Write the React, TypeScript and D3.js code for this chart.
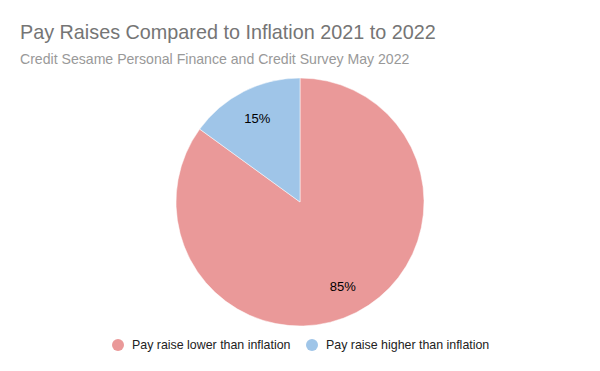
import { useEffect, useRef } from "react"
import * as d3 from "d3"

const categories = ["Pay raise lower than inflation", "Pay raise higher than inflation"]
const values = [85, 15]
const colors = ["#ea9999", "#9fc5e8"]

const title = "Pay Raises Compared to Inflation 2021 to 2022"
const subtitle = "Credit Sesame Personal Finance and Credit Survey May 2022"

export default function App() {
  const svgRef = useRef<SVGSVGElement>(null)

  useEffect(() => {
    if (!svgRef.current) return
    const width = 600
    const height = 371
    const svg = d3.select(svgRef.current)
    svg.selectAll("*").remove()
    svg.attr("width", width).attr("height", height)

    svg.append("rect").attr("width", width).attr("height", height).attr("fill", "#ffffff")

    const font = "Arial, 'Liberation Sans', sans-serif"

    svg
      .append("text")
      .attr("x", 20)
      .attr("y", 39)
      .attr("font-family", font)
      .attr("font-size", 19.8)
      .attr("fill", "#757575")
      .text(title)

    svg
      .append("text")
      .attr("x", 20)
      .attr("y", 64)
      .attr("font-family", font)
      .attr("font-size", 14.1)
      .attr("fill", "#999999")
      .text(subtitle)

    const cx = 300
    const cy = 202
    const radius = 124

    const pie = d3
      .pie<number>()
      .sort(null)
      .value((d) => d)
      .startAngle(0)
      .endAngle(2 * Math.PI)

    const arcs = pie(values)
    const arc = d3.arc<d3.PieArcDatum<number>>().innerRadius(0).outerRadius(radius)
    const labelArc = d3.arc<d3.PieArcDatum<number>>().innerRadius(radius * 0.76).outerRadius(radius * 0.76)

    const g = svg.append("g").attr("transform", `translate(${cx},${cy})`)

    g.selectAll("path")
      .data(arcs)
      .enter()
      .append("path")
      .attr("d", arc)
      .attr("fill", (_, i) => colors[i])
      .attr("stroke", "#ffffff")
      .attr("stroke-width", 0.5)

    const total = d3.sum(values)
    g.selectAll("text.label")
      .data(arcs)
      .enter()
      .append("text")
      .attr("class", "label")
      .attr("x", (d) => labelArc.centroid(d)[0])
      .attr("y", (d) => labelArc.centroid(d)[1])
      .attr("dy", "0.35em")
      .attr("text-anchor", "middle")
      .attr("font-family", font)
      .attr("font-size", 13)
      .attr("fill", "#000000")
      .text((d) => `${Math.round((d.data / total) * 100)}%`)

    // Legend
    const legendX = [118, 312]
    const legend = svg
      .selectAll("g.legend")
      .data(categories)
      .enter()
      .append("g")
      .attr("class", "legend")
      .attr("transform", (_, i) => `translate(${legendX[i]},345)`)

    legend.append("circle").attr("r", 6).attr("fill", (_, i) => colors[i])

    legend
      .append("text")
      .attr("x", 14)
      .attr("dy", "0.35em")
      .attr("font-family", font)
      .attr("font-size", 12.4)
      .attr("fill", "#222222")
      .text((d) => d)
  }, [])

  return (
    <div style={{ position: "absolute", left: 0, top: 0 }}>
      <svg ref={svgRef} style={{ display: "block" }} />
    </div>
  )
}
